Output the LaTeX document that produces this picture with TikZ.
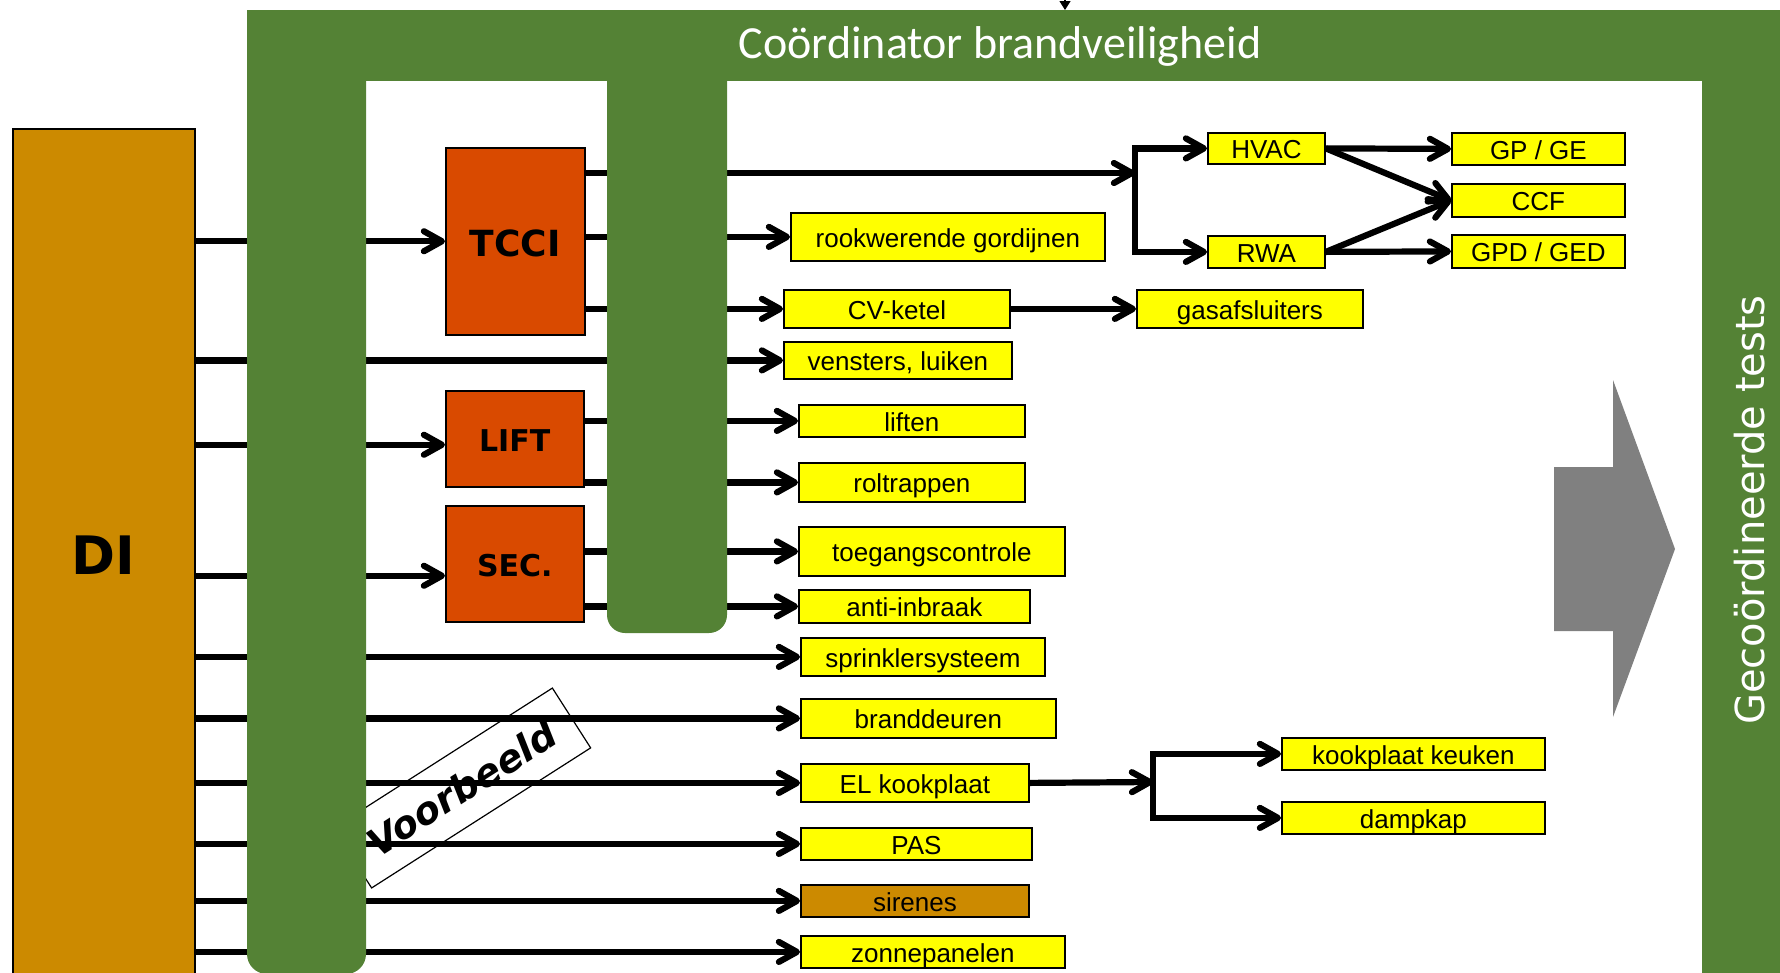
\documentclass[tikz,border=0pt]{standalone}
\usepackage{fontspec}
\setmainfont{Liberation Sans}
\newfontfamily\titlefont{Carlito}
\newfontfamily\sidefont{DejaVu Sans}
\usetikzlibrary{arrows.meta,calc,positioning}
\definecolor{FrameGreen}{RGB}{84,130,53}
\definecolor{CtrlOrange}{RGB}{217,74,0}
\definecolor{DiGold}{RGB}{204,138,0}
\definecolor{SysYellow}{RGB}{255,255,0}
\definecolor{ArrowGray}{RGB}{128,128,128}

\begin{document}
\begin{tikzpicture}[x=1pt,y=-1pt,>={Straight Barb[length=18pt,width=20pt,round]},
    flow/.style={->,line width=6.2pt},
    sysbox/.style={draw,line width=1.8pt,fill=SysYellow,anchor=north west,inner sep=0pt,
      font=\fontsize{26}{28}\selectfont,text height=21pt,text depth=0pt},
    ctrlbox/.style={draw,line width=1.5pt,fill=CtrlOrange,anchor=north west,inner sep=0pt,
      font=\sidefont\bfseries\fontsize{30}{32}\selectfont,text height=25pt,text depth=0pt}]
      \useasboundingbox (0,0) rectangle (1780,972);
      \node[draw,line width=1.5pt,fill=DiGold,anchor=north west,inner sep=0pt,minimum width=182pt,minimum height=852pt,
        font=\sidefont\bfseries\fontsize{53}{55}\selectfont,text height=39pt,text depth=0pt] (DI) at (12,128) {DI};
      \node[ctrlbox,minimum width=139pt,minimum height=187pt,font=\sidefont\bfseries\fontsize{36}{38}\selectfont,text height=30pt] (TCCI) at (445,147) {TCCI};
      \node[ctrlbox,minimum width=138pt,minimum height=96pt] (LIFT) at (445,390) {LIFT};
      \node[ctrlbox,minimum width=138pt,minimum height=116pt] (SEC) at (445,505) {SEC.};
      \node[sysbox,minimum width=314pt,minimum height=48pt] (rook) at (790,212) {rookwerende gordijnen};
      \node[sysbox,minimum width=226pt,minimum height=38pt] (cv) at (783,289) {CV-ketel};
      \node[sysbox,minimum width=226pt,minimum height=38pt] (gas) at (1136,289) {gasafsluiters};
      \node[sysbox,minimum width=228pt,minimum height=37pt] (vens) at (783,341) {vensters, luiken};
      \node[sysbox,minimum width=226pt,minimum height=32pt] (liften) at (798,404) {liften};
      \node[sysbox,minimum width=226pt,minimum height=39pt] (roltr) at (798,462) {roltrappen};
      \node[sysbox,minimum width=266pt,minimum height=49pt] (toeg) at (798,526) {toegangscontrole};
      \node[sysbox,minimum width=231pt,minimum height=33pt] (anti) at (798,589) {anti-inbraak};
      \node[sysbox,minimum width=244pt,minimum height=38pt] (sprink) at (800,637) {sprinklersysteem};
      \node[sysbox,minimum width=255pt,minimum height=39pt] (brand) at (800,698) {branddeuren};
      \node[sysbox,minimum width=228pt,minimum height=38pt] (elk) at (800,763) {EL kookplaat};
      \node[sysbox,minimum width=231pt,minimum height=32pt] (pas) at (800,827) {PAS};
      \node[sysbox,fill=DiGold,minimum width=228pt,minimum height=32pt] (sir) at (800,884) {sirenes};
      \node[sysbox,minimum width=264pt,minimum height=32pt] (zon) at (800,935) {zonnepanelen};
      \node[sysbox,minimum width=117pt,minimum height=31pt] (hvac) at (1207,132) {HVAC};
      \node[sysbox,minimum width=117pt,minimum height=32pt] (rwa) at (1207,235) {RWA};
      \node[sysbox,minimum width=173pt,minimum height=32pt] (gpge) at (1451,132) {GP / GE};
      \node[sysbox,minimum width=173pt,minimum height=33pt] (ccf) at (1451,183) {CCF};
      \node[sysbox,minimum width=173pt,minimum height=33pt] (gpd) at (1451,234) {GPD / GED};
      \node[sysbox,minimum width=263pt,minimum height=32pt] (kook) at (1281,737) {kookplaat keuken};
      \node[sysbox,minimum width=263pt,minimum height=32pt] (damp) at (1281,801) {dampkap};
      \coordinate (splitA) at (1135,173);
      \coordinate (splitB) at (1153,782);
      \coordinate (inTop) at (1065,10);
      \draw[flow] (DI.east |- TCCI.west) -- (TCCI.west);
      \draw[flow] (DI.east |- vens.west) -- (vens.west);
      \draw[flow] ([yshift=-6pt]LIFT.west -| DI.east) -- ([yshift=-6pt]LIFT.west);
      \draw[flow] ([yshift=-12pt]SEC.west -| DI.east) -- ([yshift=-12pt]SEC.west);
      \foreach \sys in {sprink,brand,elk,pas,sir,zon}
        \draw[flow] (DI.east |- \sys.west) -- (\sys.west);
      \draw[flow] (TCCI.east |- splitA) -- (splitA);
      \draw[flow] (TCCI.east |- rook.west) -- (rook.west);
      \draw[flow] (TCCI.east |- cv.west) -- (cv.west);
      \draw[flow] (LIFT.east |- liften.west) -- (liften.west);
      \draw[flow] (LIFT.east |- roltr.west) -- (roltr.west);
      \draw[flow] (SEC.east |- toeg.west) -- (toeg.west);
      \draw[flow] (SEC.east |- anti.west) -- (anti.west);
      \draw[flow] (cv.east) -- (gas.west);
      \draw[flow,<->] (hvac.west) -- (splitA |- hvac.west) -- (splitA |- rwa.west) -- (rwa.west);
      \draw[flow] (hvac.east) -- (gpge.west);
      \draw[flow] (hvac.east) -- (ccf.west);
      \draw[flow] (rwa.east) -- (ccf.west);
      \draw[flow] (rwa.east) -- (gpd.west);
      \draw[flow] (elk.east) -- (splitB);
      \draw[flow,<->] (kook.west) -- (splitB |- kook.west) -- (splitB |- damp.west) -- (damp.west);
      \node[draw,line width=1.2pt,rotate=32.6,minimum width=260pt,minimum height=71pt,
        font=\sidefont\bfseries\itshape\fontsize{38}{40}\selectfont] (stamp) at (462,788) {Voorbeeld};
      \fill[FrameGreen] (247,10) rectangle (1780,81);
      \fill[FrameGreen] (1702,10) rectangle (1780,980);
      \fill[FrameGreen,rounded corners=20pt] (247,10) -- (247,974) -- (366,974) -- (366,10);
      \fill[FrameGreen,rounded corners=18pt] (607,60) -- (607,633) -- (727,633) -- (727,60);
      \fill[ArrowGray] (1554,467) -- (1613,467) -- (1613,380) -- (1675,549) -- (1613,717) -- (1613,631) -- (1554,631) -- cycle;
      \draw[-{Triangle[length=9pt,width=11pt]},line width=1.2pt] (1065,-30) -- (inTop);
      \node[anchor=base,text=white,font=\titlefont\fontsize{46}{48}\selectfont] (coordTitle) at (1000,58) {Coördinator brandveiligheid};
      \node[rotate=90,text=white,font=\sidefont\fontsize{40}{42}\selectfont] (testTitle) at (1750,510) {Gecoördineerde tests};
    \end{tikzpicture}
\end{document}
